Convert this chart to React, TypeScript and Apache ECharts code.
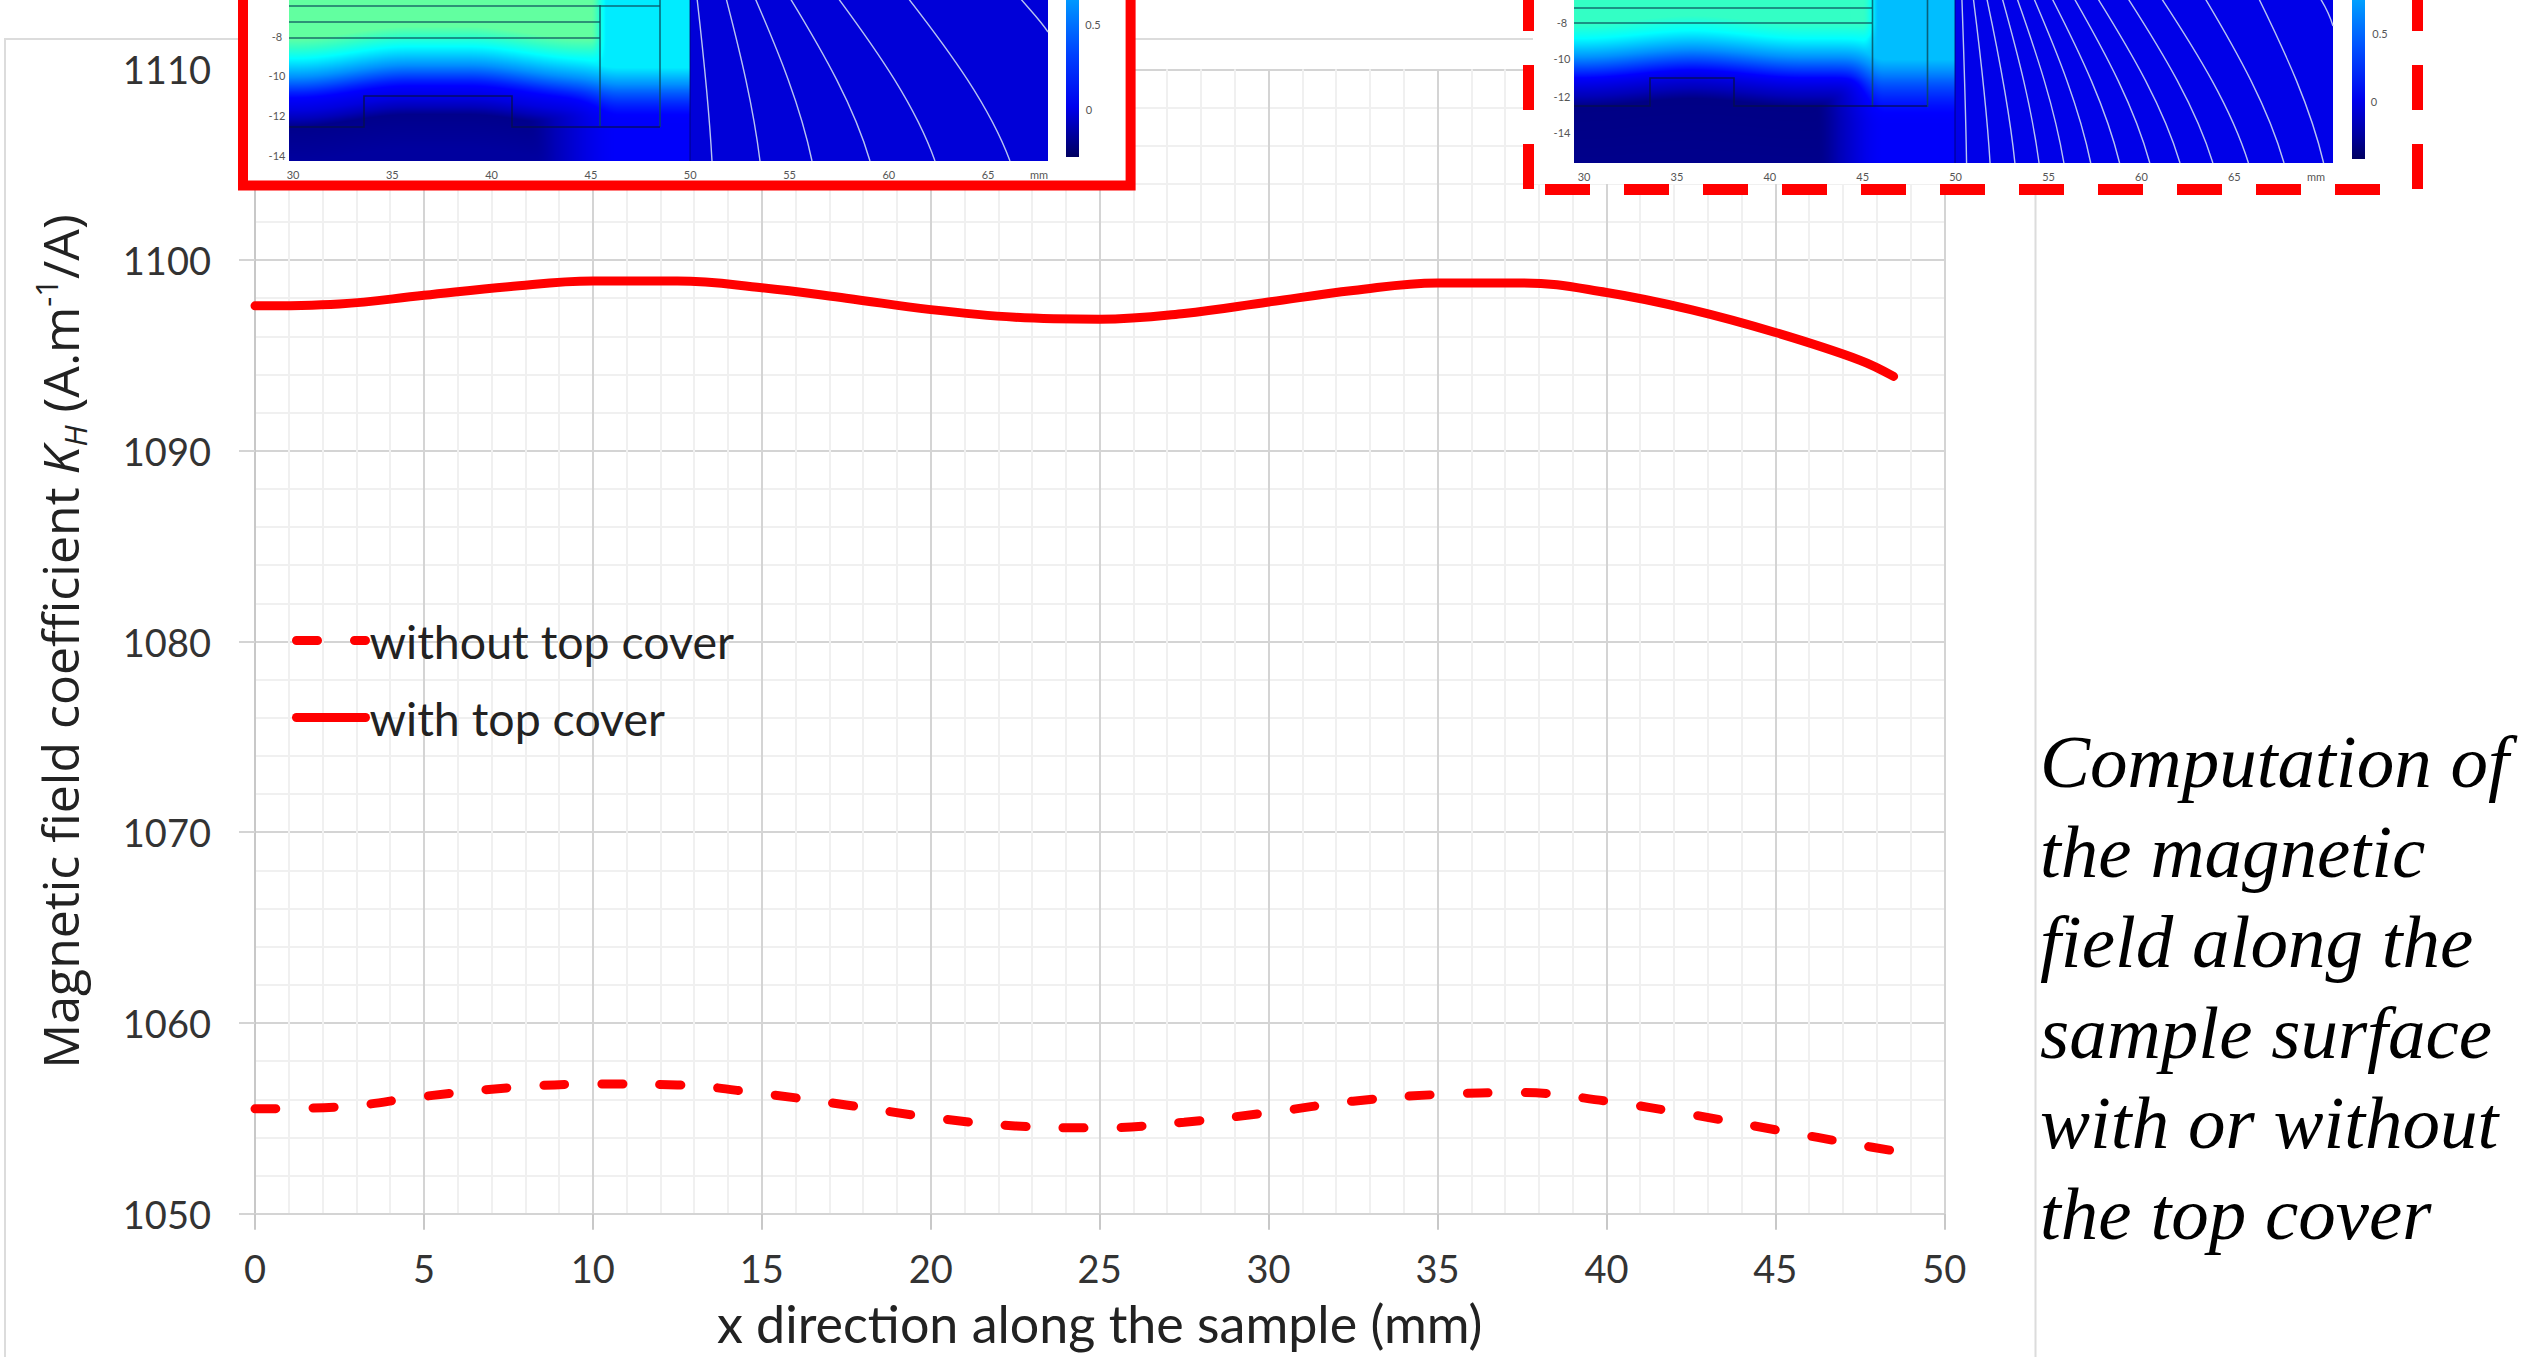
import React, { useEffect, useRef } from "react";
import * as echarts from "echarts";

const xTicks = [0, 2.5, 5, 7.5, 10, 12.5, 15, 17.5, 20, 22.5, 25, 27.5, 30, 32.5, 35, 37.5, 40, 42.5, 45, 47.5, 48.5];
const withCover = [1097.6, 1097.7, 1098.15, 1098.6, 1098.9, 1098.9, 1098.55, 1098.0, 1097.4, 1097.0, 1096.9, 1097.2, 1097.8, 1098.4, 1098.8, 1098.8, 1098.3, 1097.4, 1096.2, 1094.75, 1093.9];
const withoutCover = [1055.5, 1055.6, 1056.15, 1056.6, 1056.8, 1056.75, 1056.3, 1055.7, 1055.05, 1054.6, 1054.5, 1054.8, 1055.3, 1055.9, 1056.25, 1056.35, 1055.9, 1055.2, 1054.4, 1053.6, 1053.3];
const caption = ["Computation of", "the magnetic", "field along the", "sample surface", "with or without", "the top cover"];
const insetXLabels = ["30", "35", "40", "45", "50", "55", "60", "65"];
const insetYLabels = ["-8", "-10", "-12", "-14"];

const pairs = (ys: number[]) => xTicks.map((x, i) => [x, ys[i]]);
const vGrad = (stops: [number, string][]) => new echarts.graphic.LinearGradient(0, 0, 0, 1, stops.map(([offset, color]) => ({ offset, color })));
const Z = 10;

const RAMP: [number, number[]][] = [
  [0, [0, 0, 120]], [0.1, [0, 0, 184]], [0.25, [0, 0, 255]], [0.38, [0, 144, 255]],
  [0.5, [0, 255, 255]], [0.65, [48, 255, 200]], [0.8, [98, 255, 160]],
];
function lerpTable(table: number[][], v: number) {
  if (v <= table[0][0]) return table[0][1];
  for (let i = 1; i < table.length; i++) {
    if (v <= table[i][0]) {
      const [a, b] = [table[i - 1], table[i]];
      return a[1] + ((b[1] - a[1]) * (v - a[0])) / (b[0] - a[0]);
    }
  }
  return table[table.length - 1][1];
}
const sstep = (a: number, b: number, v: number) => {
  const t = Math.min(1, Math.max(0, (v - a) / (b - a)));
  return t * t * (3 - 2 * t);
};
function colorOf(t: number) {
  for (let i = 1; i < RAMP.length; i++) {
    if (t <= RAMP[i][0]) {
      const [a, b] = [RAMP[i - 1], RAMP[i]];
      const k = Math.max(0, (t - a[0]) / (b[0] - a[0]));
      return a[1].map((c, j) => c + (b[1][j] - c) * k);
    }
  }
  return RAMP[RAMP.length - 1][1];
}
type HeatCfg = { w: number; h: number; prof: number[][]; bumpL: number; bumpR: number; bumpShift: number; sideA: number; sideB: number; sideTop: number; sideBot: number; wall: number };
function heatImage(c: HeatCfg) {
  const cv = document.createElement("canvas");
  cv.width = c.w; cv.height = c.h;
  const g = cv.getContext("2d")!;
  const img = g.createImageData(c.w, c.h);
  for (let y = 0; y < c.h; y++) {
    for (let x = 0; x < c.w; x++) {
      const b = sstep(c.bumpL - 70, c.bumpL + 45, x) * (1 - sstep(c.bumpR - 45, c.bumpR + 70, x));
      const tV = lerpTable(c.prof, y + b * c.bumpShift);
      const side = sstep(c.sideA, c.sideB, x) * (c.sideTop + (c.sideBot - c.sideTop) * sstep(35, 125, y));
      const soft = Math.pow(Math.pow(tV, 6) + Math.pow(side, 6), 1 / 6);
      const s2 = sstep(c.wall - 10, c.wall + 6, x);
      const t = soft * (1 - s2) + Math.max(side, Math.min(soft, c.sideTop)) * s2;
      const [r, gg, bb] = colorOf(t);
      const i = (y * c.w + x) * 4;
      img.data[i] = r; img.data[i + 1] = gg; img.data[i + 2] = bb; img.data[i + 3] = 255;
    }
  }
  g.putImageData(img, 0, 0);
  return cv.toDataURL();
}

function text(x: number, y: number, t: string, size = 11, color = "#555") {
  return { type: "text", z: Z + 3, x, y, style: { text: t, fontFamily: "Lato", fontSize: size, fill: color, textAlign: "center", textVerticalAlign: "middle" } };
}
function rect(x: number, y: number, w: number, h: number, fill: any) {
  return { type: "rect", z: Z + 1, shape: { x, y, width: w, height: h }, style: { fill } };
}
function poly(points: number[][], stroke = "#0a4a5a", lineWidth = 1.6) {
  return { type: "polyline", z: Z + 2, shape: { points }, style: { stroke, lineWidth, fill: "none", opacity: 0.8 } };
}
function contour(x1: number, x2: number, y2: number) {
  const dx = x2 - x1;
  return {
    type: "bezierCurve", z: Z + 2,
    shape: { x1, y1: -2, x2, y2, cpx1: x1 + dx * 0.42, cpy1: y2 * 0.33, cpx2: x1 + dx * 0.8, cpy2: y2 * 0.66 },
    style: { stroke: "#b8c4f0", lineWidth: 1.4, fill: "none" },
  };
}

function leftInset() {
  const tops = [697, 726, 755, 790, 838, 908];
  const bots = [712, 760, 812, 870, 935, 1010];
  const heat = heatImage({
    w: 401, h: 161,
    prof: [[38, 0.8], [58, 0.5], [75, 0.39], [92, 0.28], [110, 0.18], [126, 0.03], [161, 0.06]],
    bumpL: 75, bumpR: 223, bumpShift: 12, sideA: 215, sideB: 330, sideTop: 0.48, sideBot: 0.24, wall: 311,
  });
  return [
    rect(246, -5, 882, 187, "#fff"),
    { type: "image", z: Z + 1, style: { image: heat, x: 289, y: 0, width: 401, height: 161 } },
    rect(690, 0, 358, 161, "#0000d8"),
    poly([[289, 6], [660, 6]]), poly([[289, 22], [600, 22]]), poly([[289, 38], [600, 38]]),
    poly([[600, 5], [600, 126]]), poly([[660, 0], [660, 127]]),
    poly([[289, 127], [364, 127], [364, 96], [512, 96], [512, 127], [660, 127]], "#06104a"),
    poly([[690, 0], [690, 161]], "#00006a", 1),
    ...tops.map((t, i) => contour(t, bots[i], 161)),
    { type: "bezierCurve", z: Z + 2, shape: { x1: 1020, y1: -2, x2: 1048, y2: 32, cpx1: 1030, cpy1: 10, cpx2: 1040, cpy2: 20 }, style: { stroke: "#b8c4f0", lineWidth: 1.4, fill: "none" } },
    rect(1066, 0, 13, 157, vGrad([[0, "#0098ff"], [0.35, "#0040ff"], [0.68, "#0000ee"], [0.85, "#0000a0"], [1, "#000060"]])),
    text(1093, 24, "0.5"), text(1089, 109, "0"),
    ...insetYLabels.map((t, i) => text(277, 36 + i * 39.7, t)),
    ...insetXLabels.map((t, i) => text(293 + i * 99.3, 174, t)),
    text(1039, 174, "mm"),
    { type: "rect", z: Z + 4, shape: { x: 243, y: -20, width: 887.6, height: 205.5 }, style: { fill: "none", stroke: "#ff0000", lineWidth: 10 } },
  ];
}

function rightInset() {
  const tops = [718, 735, 755, 778, 800, 825, 852, 885, 920, 965, 1015, 1080, 1160].map((v) => v / 1.49 + 1480);
  const bots = [725, 760, 797, 833, 870, 910, 953, 998, 1043, 1092, 1145, 1198, 1257].map((v) => v / 1.49 + 1480);
  const dash = (points: number[][]) => ({ type: "polyline", z: Z + 4, shape: { points }, style: { stroke: "#ff0000", lineWidth: 11, lineDash: [45, 34], fill: "none" } });
  const heat = heatImage({
    w: 381, h: 163,
    prof: [[23, 0.66], [38, 0.5], [60, 0.36], [76, 0.26], [92, 0.13], [106, 0.02], [163, 0.03]],
    bumpL: 76, bumpR: 160, bumpShift: 8, sideA: 230, sideB: 310, sideTop: 0.43, sideBot: 0.24, wall: 298,
  });
  return [
    rect(1533, -5, 880, 189, "#fff"),
    { type: "image", z: Z + 1, style: { image: heat, x: 1574, y: 0, width: 381, height: 163 } },
    rect(1955, 0, 378, 163, "#0000e8"),
    poly([[1574, 8], [1872, 8]]), poly([[1574, 23], [1872, 23]]),
    poly([[1872.5, 0], [1872.5, 107]]), poly([[1927.5, 0], [1927.5, 107]]),
    poly([[1574, 106], [1650, 106], [1650, 78], [1734, 78], [1734, 106], [1927, 106]], "#06104a"),
    poly([[1955, 0], [1955, 163]], "#00006a", 1),
    ...tops.map((t, i) => contour(t, bots[i], 163)),
    { type: "bezierCurve", z: Z + 2, shape: { x1: 2320, y1: -2, x2: 2333, y2: 26, cpx1: 2325, cpy1: 6, cpx2: 2330, cpy2: 16 }, style: { stroke: "#b8c4f0", lineWidth: 1.4, fill: "none" } },
    rect(2352, 0, 13, 159, vGrad([[0, "#00a0ff"], [0.3, "#0050ff"], [0.63, "#0000ee"], [0.85, "#0000a0"], [1, "#000060"]])),
    text(2380, 33, "0.5"), text(2374, 101, "0"),
    text(1562, 22, "-8"), text(1562, 58, "-10"), text(1562, 96, "-12"), text(1562, 132, "-14"),
    ...insetXLabels.map((t, i) => text(1584 + i * 92.9, 176, t)),
    text(2316, 176, "mm"),
    dash([[1528.5, -14], [1528.5, 189]]),
    dash([[2417.5, -14], [2417.5, 195]]),
    dash([[1545, 189.5], [2400, 189.5]]),
  ];
}

export default function App() {
  const ref = useRef<HTMLDivElement>(null);
  useEffect(() => {
    const chart = echarts.init(ref.current!, undefined, { renderer: "svg" });
    const labelFont = { fontFamily: "Lato", fontSize: 38, color: "#333" };
    const major = { show: true, lineStyle: { color: "#d4d4d4", width: 2 } };
    const minor = { show: true, lineStyle: { color: "#f0f0f0", width: 2 } };
    chart.setOption({
      animation: false,
      backgroundColor: "#fff",
      grid: { left: 255, right: 587.7, top: 69.3, bottom: 143.3, outerBoundsMode: "none" },
      xAxis: {
        type: "value", min: 0, max: 50, interval: 5,
        axisLine: { show: true, lineStyle: { color: "#d4d4d4", width: 2 } },
        axisTick: { show: true, length: 16, lineStyle: { color: "#c8c8c8", width: 2 } },
        axisLabel: { ...labelFont, margin: 35 },
        splitLine: major,
        minorTick: { show: false, splitNumber: 5 },
        minorSplitLine: minor,
        name: "x direction along the sample (mm)",
        nameLocation: "middle",
        nameGap: 83,
        nameTextStyle: { fontFamily: "Lato", fontSize: 52, color: "#222" },
      },
      yAxis: {
        type: "value", min: 1050, max: 1110, interval: 10,
        axisLine: { show: true, lineStyle: { color: "#c8c8c8", width: 2 } },
        axisTick: { show: true, length: 16, lineStyle: { color: "#d4d4d4", width: 2 } },
        axisLabel: { ...labelFont, margin: 44, formatter: (v: number) => String(v) },
        splitLine: major,
        minorTick: { show: false, splitNumber: 5 },
        minorSplitLine: minor,
        name: "Magnetic field coefficient {i|K}{sub|H} (A.m{sup|-1}/A)",
        nameLocation: "middle",
        nameGap: 165,
        nameTextStyle: {
          fontFamily: "Open Sans", fontSize: 50, color: "#222",
          rich: {
            i: { fontFamily: "Open Sans", fontSize: 50, fontStyle: "italic", color: "#222" },
            sub: { fontFamily: "Open Sans", fontSize: 31, fontStyle: "italic", color: "#222", verticalAlign: "bottom", lineHeight: 60 },
            sup: { fontFamily: "Open Sans", fontSize: 31, color: "#222", verticalAlign: "top", lineHeight: 60 },
          },
        },
      },
      legend: {
        orient: "vertical",
        left: 287, top: 612,
        itemWidth: 69, itemHeight: 10, itemGap: 30,
        lineStyle: { width: 9, cap: "round" },
        itemStyle: { opacity: 0 },
        textStyle: { fontFamily: "Lato", fontSize: 46.5, color: "#222", padding: [0, 0, 0, -1] },
        data: ["without top cover", "with top cover"],
      },
      series: [
        {
          name: "without top cover", type: "line", data: pairs(withoutCover), smooth: 0.4, symbol: "none", showSymbol: false,
          lineStyle: { color: "#ff0000", width: 9, type: [21, 37], cap: "round" }, itemStyle: { color: "#ff0000" },
        },
        {
          name: "with top cover", type: "line", data: pairs(withCover), smooth: 0.4, symbol: "none", showSymbol: false,
          lineStyle: { color: "#ff0000", width: 9, cap: "round" }, itemStyle: { color: "#ff0000" },
        },
      ],
      graphic: [
        { type: "rect", z: 0, shape: { x: 5, y: 39, width: 2030.5, height: 1400 }, style: { fill: "none", stroke: "#dcdcdc", lineWidth: 2 } },
        ...leftInset(),
        ...rightInset(),
        ...caption.map((t, i) => ({
          type: "text", z: Z, x: 2040, y: 761 + i * 90.4,
          style: { text: t, fontFamily: "Liberation Serif", fontStyle: "italic", fontSize: 75, fill: "#000", textAlign: "left", textVerticalAlign: "middle" },
        })),
      ],
    });
    return () => chart.dispose();
  }, []);
  return <div ref={ref} style={{ position: "absolute", left: 0, top: 0, width: 2532, height: 1357 }} />;
}
